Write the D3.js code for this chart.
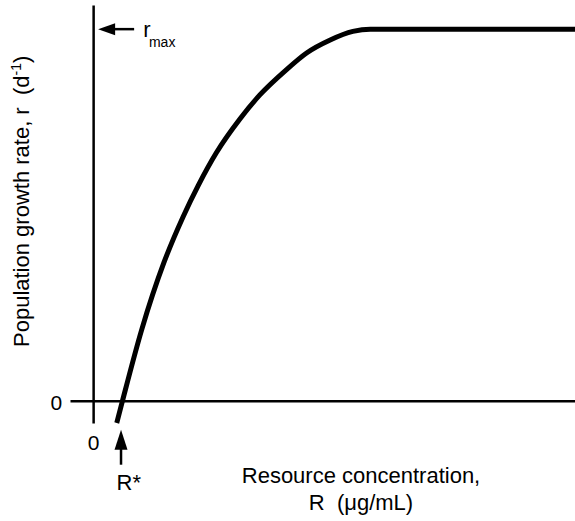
<!DOCTYPE html>
<html>
<head>
<meta charset="utf-8">
<script src="https://cdn.jsdelivr.net/npm/d3@7"></script>
<style>
  html, body { margin: 0; padding: 0; background: #fff; }
  svg { display: block; font-family: "Liberation Sans", Arial, Helvetica, sans-serif; }
</style>
</head>
<body>
<svg id="chart" width="575" height="521"></svg>
<script>
// Resource concentration R (arbitrary units) and population growth rate r (fraction of r_max)
const resource = [4.9, 6.1, 10.1, 14.7, 18.7, 21.8, 25.6, 30.5, 34.6, 40.2, 44.3, 49.2, 53.9, 57.5, 100];
const growth   = [-0.06, 0, 0.192, 0.372, 0.496, 0.579, 0.668, 0.759, 0.823, 0.892, 0.936, 0.971, 0.994, 1.0, 1.0];
const xTickValues = [0];
const yTickValues = [0];
const rStar = 6.1;
const rMax = 1.0;

const xDomain = [-4.8, 100];
const yDomain = [-0.06, 1.065];

const svg = d3.select("#chart");
const x = d3.scaleLinear().domain(xDomain).range([70, 575]);
const y = d3.scaleLinear().domain(yDomain).range([423, 5]);

const data = resource.map((d, i) => ({ R: d, r: growth[i] }));

// Axes
const xAxis = svg.append("g")
  .attr("transform", `translate(0,${y(0)})`)
  .call(d3.axisBottom(x).tickValues(xTickValues).tickSize(0).tickSizeOuter(0).tickPadding(34).tickFormat(d3.format("d")));
const yAxis = svg.append("g")
  .attr("transform", `translate(${x(0)},0)`)
  .call(d3.axisLeft(y).tickValues(yTickValues).tickSize(0).tickSizeOuter(0).tickPadding(31).tickFormat(d3.format("d")));

[xAxis, yAxis].forEach(g => {
  g.select(".domain").attr("stroke", "#000").attr("stroke-width", 2.5);
  g.selectAll("text").attr("font-size", 21).attr("fill", "#000")
    .attr("font-family", "'Liberation Sans', Arial, sans-serif");
});
yAxis.selectAll("text").attr("dy", "0.42em");

// Curve
const line = d3.line()
  .x(d => x(d.R))
  .y(d => y(d.r))
  .curve(d3.curveMonotoneX);

svg.append("path")
  .datum(data)
  .attr("d", line)
  .attr("fill", "none")
  .attr("stroke", "#000")
  .attr("stroke-width", 5);

// r_max arrow (pointing left at y axis)
const ay = y(rMax);
const ax0 = x(0) + 5;
svg.append("path")
  .attr("d", `M${ax0},${ay} L${ax0 + 17},${ay - 6} L${ax0 + 17},${ay + 6} Z`)
  .attr("fill", "#000");
svg.append("line")
  .attr("x1", ax0 + 15).attr("x2", ax0 + 36)
  .attr("y1", ay).attr("y2", ay)
  .attr("stroke", "#000").attr("stroke-width", 2.5);
const rmaxText = svg.append("text")
  .attr("x", ax0 + 45).attr("y", ay + 7.5)
  .attr("font-size", 22).attr("fill", "#000");
rmaxText.append("tspan").text("r");
rmaxText.append("tspan").attr("dx", -1.5).attr("dy", 10).attr("font-size", 14).text("max");

// R* arrow (pointing up below x axis)
const sx = x(rStar) - 1.5;
const tipY = y(0) + 29;
svg.append("path")
  .attr("d", `M${sx},${tipY} L${sx - 6.5},${tipY + 20} L${sx + 6.5},${tipY + 20} Z`)
  .attr("fill", "#000");
svg.append("line")
  .attr("x1", sx).attr("x2", sx)
  .attr("y1", tipY + 18).attr("y2", tipY + 35)
  .attr("stroke", "#000").attr("stroke-width", 2.5);
svg.append("text")
  .attr("x", sx - 4.5).attr("y", 490)
  .attr("font-size", 22).attr("fill", "#000")
  .text("R*");

// Axis titles
const xt = svg.append("text")
  .attr("text-anchor", "middle")
  .attr("font-size", 22).attr("fill", "#000");
xt.append("tspan").attr("x", 361).attr("y", 483).text("Resource concentration,");
xt.append("tspan").attr("x", 361).attr("y", 510).text("R\u00A0 (\u03BCg/mL)");

const yt = svg.append("text")
  .attr("transform", "translate(28.5,347) rotate(-90)")
  .attr("text-anchor", "start")
  .attr("font-size", 22).attr("fill", "#000");
yt.append("tspan").text("Population growth rate, r\u00A0 (d");
yt.append("tspan").attr("font-size", 14).attr("dy", -8).text("-1");
yt.append("tspan").attr("dy", 8).text(")");
</script>
</body>
</html>
